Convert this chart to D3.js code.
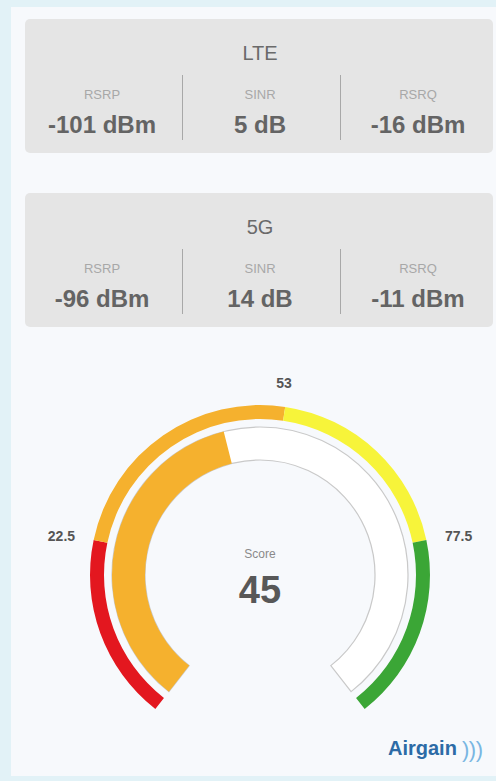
<!DOCTYPE html>
<html>
<head>
<meta charset="utf-8">
<script src="https://cdn.jsdelivr.net/npm/d3@7/dist/d3.min.js"></script>
<style>
  html, body { margin: 0; padding: 0; background: #e2f2f7; }
  svg { display: block; }
</style>
</head>
<body>
<svg id="chart" width="496" height="781"></svg>
<script>
// ---- data ----
const metricNames = ["RSRP", "SINR", "RSRQ"];
const lteValues = ["-101 dBm", "5 dB", "-16 dBm"];
const nrValues = ["-96 dBm", "14 dB", "-11 dBm"];
const panelTitles = ["LTE", "5G"];
const zoneBreaks = [0, 22.5, 53, 77.5, 100];
const zoneColors = ["#e3171f", "#f5b12e", "#f7f43a", "#3ba636"];
const tickLabels = [22.5, 53, 77.5];
const scoreValue = 45;
const scoreLabel = "Score";

const svg = d3.select("#chart");
const font = "Liberation Sans, Arial, sans-serif";

// page card
svg.append("rect").attr("x", 11).attr("y", 7).attr("width", 490).attr("height", 769)
  .attr("fill", "#f7f9fc");

// panels
const panelX = 25, panelW = 468, panelH = 134;
const panelY = [19, 193];
const colX = d3.scaleBand().domain(metricNames).range([23, 497]);
[lteValues, nrValues].forEach((vals, i) => {
  const g = svg.append("g").attr("transform", `translate(0,${panelY[i]})`);
  g.append("rect").attr("x", panelX).attr("y", 0).attr("width", panelW).attr("height", panelH)
    .attr("rx", 5).attr("fill", "#e5e5e5");
  g.append("text").attr("x", 260).attr("y", 41).attr("text-anchor", "middle")
    .attr("font-family", font).attr("font-size", 20).attr("fill", "#6a6a6a").text(panelTitles[i]);
  metricNames.forEach((m, j) => {
    const cx = colX(m) + colX.bandwidth() / 2;
    g.append("text").attr("x", cx).attr("y", 80).attr("text-anchor", "middle")
      .attr("font-family", font).attr("font-size", 13).attr("fill", "#a8a8a8").text(m);
    g.append("text").attr("x", cx).attr("y", 114).attr("text-anchor", "middle")
      .attr("font-family", font).attr("font-size", 24).attr("font-weight", "bold")
      .attr("fill", "#646464").text(vals[j]);
    if (j > 0) {
      g.append("line").attr("x1", colX(m) + 1.5).attr("x2", colX(m) + 1.5).attr("y1", 56).attr("y2", 121)
        .attr("stroke", "#a8a8a8").attr("stroke-width", 1);
    }
  });
});

// gauge
const cx = 260, cy = 575;
const maxA = 142 * Math.PI / 180;
const angle = d3.scaleLinear().domain([0, 100]).range([-maxA, maxA]);
const gauge = svg.append("g").attr("transform", `translate(${cx},${cy})`);

const outerArc = d3.arc().innerRadius(156).outerRadius(170);
zoneColors.forEach((c, i) => {
  gauge.append("path")
    .attr("d", outerArc({ startAngle: angle(zoneBreaks[i]), endAngle: angle(zoneBreaks[i + 1]) }))
    .attr("fill", c);
});

const innerArc = d3.arc().innerRadius(115).outerRadius(148);
gauge.append("path")
  .attr("d", innerArc({ startAngle: angle(0), endAngle: angle(100) }))
  .attr("fill", "#ffffff").attr("stroke", "#c9c9c9").attr("stroke-width", 1.2);
gauge.append("path")
  .attr("d", innerArc({ startAngle: angle(0), endAngle: angle(scoreValue) }))
  .attr("fill", "#f5b12e");

// tick labels
tickLabels.forEach(t => {
  const a = angle(t);
  const r = 189;
  const x = r * Math.sin(a), y = -r * Math.cos(a);
  let anchor = "middle", dy = 0;
  if (t < 40) anchor = "end";
  else if (t > 60) anchor = "start";
  else dy = -5;
  gauge.append("text").attr("x", anchor === "middle" ? x - 4 : x).attr("y", y + dy + 5)
    .attr("text-anchor", anchor).attr("font-family", font).attr("font-size", 14)
    .attr("font-weight", "bold").attr("fill", "#555").text(t);
});

// center text
gauge.append("text").attr("x", 0).attr("y", -17).attr("text-anchor", "middle")
  .attr("font-family", font).attr("font-size", 12).attr("fill", "#8a8a8a").text(scoreLabel);
gauge.append("text").attr("x", 0).attr("y", 28).attr("text-anchor", "middle")
  .attr("font-family", font).attr("font-size", 38).attr("font-weight", "bold")
  .attr("fill", "#585858").text(scoreValue);

// logo
svg.append("text").attr("x", 388).attr("y", 755)
  .attr("font-family", font).attr("font-size", 20).attr("font-weight", "bold")
  .attr("letter-spacing", 0).attr("fill", "#2c6ba6").text("Airgain");
svg.append("text").attr("x", 462).attr("y", 757)
  .attr("font-family", font).attr("font-size", 22).attr("letter-spacing", -0.5)
  .attr("fill", "#79b6e2").text(")))");
</script>
</body>
</html>
